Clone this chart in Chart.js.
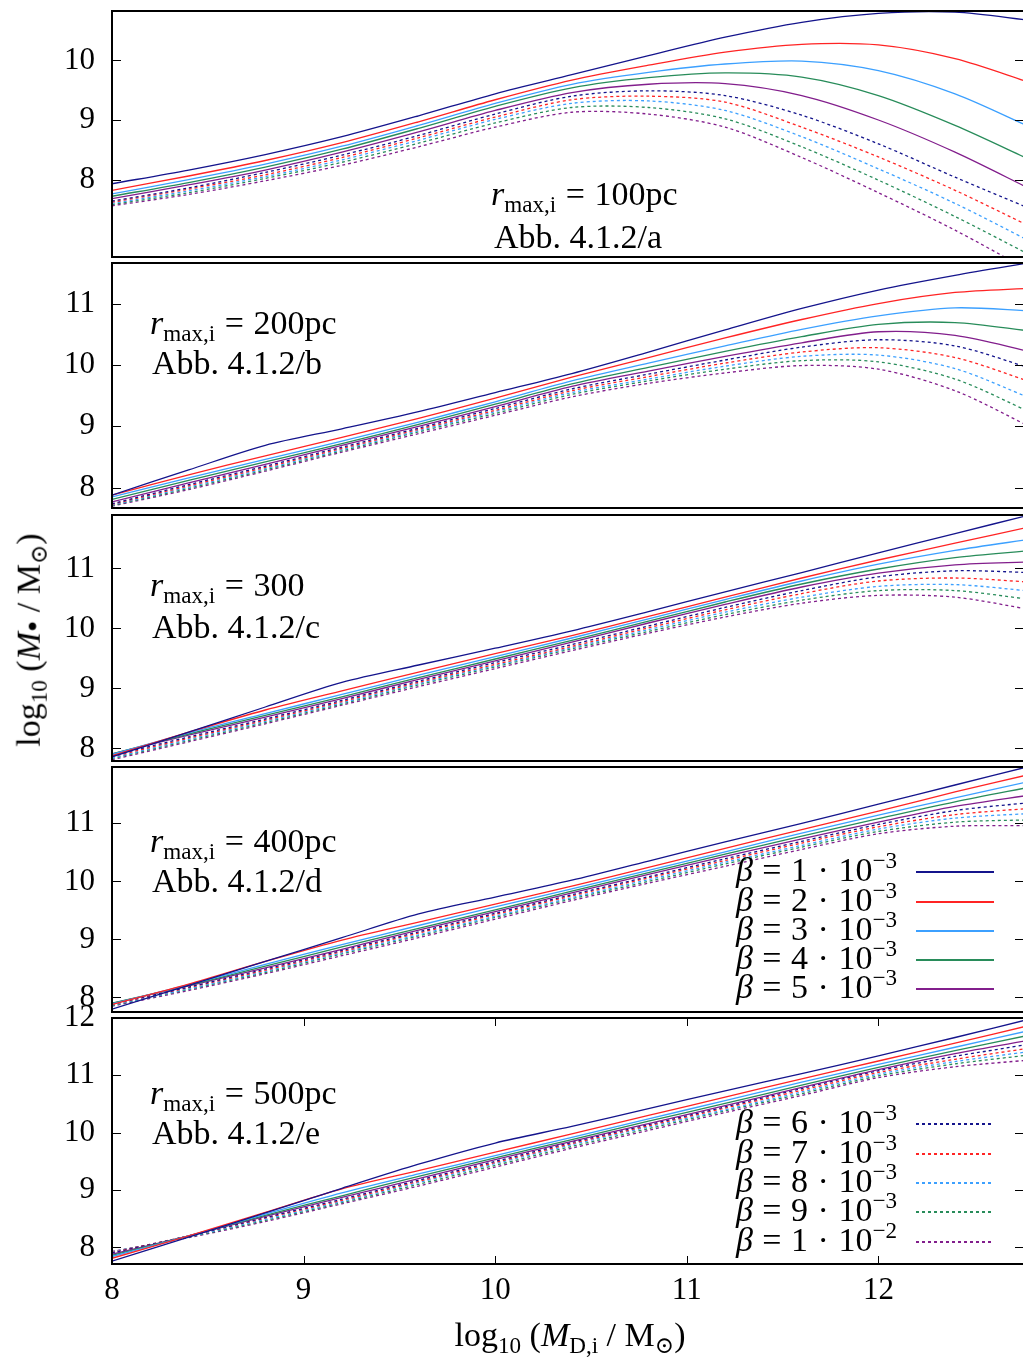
<!DOCTYPE html>
<html>
<head>
<meta charset="utf-8">
<title>Abb. 4.1.2</title>
<script src="https://cdn.jsdelivr.net/npm/chart.js@4.4.1/dist/chart.umd.min.js"></script>
<style>
  html, body { margin: 0; padding: 0; background: #fff; overflow: hidden; }
  #page { position: relative; width: 1023px; height: 1358px; overflow: hidden; background: #fff; }
  canvas { position: absolute; left: 0; }
  .tx { position: absolute; font-family: "Liberation Serif", "DejaVu Serif", serif; font-size: 34px; line-height: 32px; white-space: nowrap; color: #000; z-index: 5; }
  .tx sub { font-size: 0.68em; vertical-align: -0.32em; line-height: 0; }
  .tx sup { font-size: 0.68em; vertical-align: 0.55em; line-height: 0; }
  .tx sub.dot { font-size: 0.95em; vertical-align: -0.12em; }
  .op { margin: 0 0.28em; }
  .key { position: absolute; left: 916px; width: 78px; height: 2px; z-index: 5; }
</style>
</head>
<body>
<div id="page"></div>
<script>
// x-Werte: log10(M_D,i / Msun)
const massX = [8.0, 8.4, 8.8, 9.2, 9.6, 10.0, 10.4, 10.8, 11.2, 11.6, 12.0, 12.4, 12.8];
const xTickVals = [8, 9, 10, 11, 12];

// beta = mant * 10^exp
const betaMant = ["1", "2", "3", "4", "5", "6", "7", "8", "9", "1"];
const betaExp = ["−3", "−3", "−3", "−3", "−3", "−3", "−3", "−3", "−3", "−2"];

const panelRadius = ["100pc", "200pc", "300", "400pc", "500pc"];
const panelTag = ["a", "b", "c", "d", "e"];
const panelYTicks = [[8, 9, 10], [8, 9, 10, 11], [8, 9, 10, 11], [8, 9, 10, 11], [8, 9, 10, 11, 12]];

// log10(M_bh / Msun), one row per beta (1e-3 ... 1e-2)
const rmax100 = [
  [7.93, 8.16, 8.42, 8.72, 9.07, 9.44, 9.76, 10.08, 10.39, 10.64, 10.79, 10.81, 10.67],
  [7.82, 8.06, 8.32, 8.62, 8.97, 9.34, 9.67, 9.92, 10.14, 10.27, 10.26, 10.03, 9.62],
  [7.76, 8.00, 8.26, 8.56, 8.91, 9.28, 9.60, 9.80, 9.94, 9.99, 9.83, 9.44, 8.87],
  [7.72, 7.95, 8.21, 8.51, 8.86, 9.23, 9.54, 9.71, 9.79, 9.72, 9.41, 8.91, 8.32],
  [7.68, 7.91, 8.16, 8.46, 8.80, 9.16, 9.46, 9.60, 9.61, 9.41, 9.00, 8.46, 7.83],
  [7.64, 7.86, 8.12, 8.41, 8.74, 9.10, 9.40, 9.49, 9.41, 9.08, 8.60, 8.04, 7.50],
  [7.62, 7.84, 8.08, 8.37, 8.70, 9.05, 9.34, 9.40, 9.30, 8.88, 8.38, 7.82, 7.20],
  [7.60, 7.81, 8.05, 8.33, 8.66, 9.01, 9.28, 9.32, 9.16, 8.72, 8.18, 7.60, 6.95],
  [7.58, 7.78, 8.02, 8.29, 8.61, 8.95, 9.21, 9.21, 9.02, 8.55, 7.99, 7.38, 6.72],
  [7.56, 7.75, 7.98, 8.24, 8.55, 8.88, 9.13, 9.10, 8.88, 8.37, 7.78, 7.15, 6.45]
];
const rmax200 = [
  [7.88, 8.29, 8.69, 8.96, 9.24, 9.55, 9.86, 10.21, 10.57, 10.92, 11.22, 11.46, 11.67],
  [7.88, 8.21, 8.52, 8.82, 9.13, 9.46, 9.80, 10.12, 10.44, 10.74, 11.00, 11.18, 11.25],
  [7.85, 8.16, 8.46, 8.76, 9.07, 9.40, 9.74, 10.03, 10.31, 10.58, 10.80, 10.93, 10.88],
  [7.81, 8.12, 8.42, 8.72, 9.03, 9.36, 9.69, 9.96, 10.22, 10.46, 10.66, 10.69, 10.55],
  [7.77, 8.08, 8.38, 8.69, 9.00, 9.32, 9.65, 9.90, 10.14, 10.36, 10.54, 10.48, 10.21],
  [7.74, 8.05, 8.35, 8.66, 8.97, 9.29, 9.61, 9.85, 10.08, 10.29, 10.41, 10.31, 9.94],
  [7.73, 8.03, 8.33, 8.64, 8.95, 9.26, 9.58, 9.81, 10.03, 10.21, 10.28, 10.12, 9.72],
  [7.72, 8.01, 8.31, 8.62, 8.93, 9.24, 9.55, 9.77, 9.98, 10.14, 10.16, 9.94, 9.45],
  [7.71, 7.99, 8.29, 8.60, 8.91, 9.21, 9.52, 9.74, 9.93, 10.07, 10.05, 9.77, 9.22],
  [7.70, 7.97, 8.27, 8.58, 8.88, 9.18, 9.48, 9.70, 9.87, 9.99, 9.93, 9.58, 8.98]
];
const rmax300 = [
  [7.86, 8.27, 8.69, 9.10, 9.39, 9.67, 9.96, 10.28, 10.61, 10.93, 11.26, 11.58, 11.90],
  [7.88, 8.27, 8.64, 8.96, 9.27, 9.58, 9.88, 10.20, 10.52, 10.84, 11.14, 11.42, 11.70],
  [7.90, 8.26, 8.58, 8.90, 9.22, 9.53, 9.84, 10.16, 10.48, 10.79, 11.07, 11.30, 11.49],
  [7.91, 8.24, 8.55, 8.86, 9.18, 9.49, 9.80, 10.12, 10.44, 10.74, 10.99, 11.18, 11.30],
  [7.91, 8.22, 8.52, 8.83, 9.15, 9.46, 9.77, 10.09, 10.40, 10.69, 10.92, 11.06, 11.11],
  [7.88, 8.19, 8.49, 8.80, 9.12, 9.43, 9.73, 10.04, 10.35, 10.63, 10.86, 10.96, 10.93],
  [7.86, 8.17, 8.47, 8.78, 9.10, 9.40, 9.70, 10.01, 10.31, 10.58, 10.79, 10.84, 10.77],
  [7.84, 8.15, 8.45, 8.76, 9.08, 9.38, 9.68, 9.98, 10.27, 10.52, 10.70, 10.73, 10.62],
  [7.83, 8.13, 8.43, 8.74, 9.06, 9.36, 9.66, 9.95, 10.23, 10.47, 10.63, 10.63, 10.48],
  [7.81, 8.11, 8.41, 8.72, 9.03, 9.33, 9.63, 9.92, 10.19, 10.42, 10.55, 10.52, 10.31]
];
const rmax400 = [
  [7.80, 8.21, 8.62, 9.03, 9.44, 9.73, 10.02, 10.35, 10.68, 11.00, 11.33, 11.66, 11.99],
  [7.88, 8.23, 8.62, 8.99, 9.30, 9.61, 9.92, 10.24, 10.57, 10.89, 11.21, 11.54, 11.85],
  [7.89, 8.22, 8.57, 8.91, 9.24, 9.56, 9.87, 10.19, 10.51, 10.83, 11.14, 11.44, 11.73],
  [7.90, 8.21, 8.54, 8.87, 9.19, 9.51, 9.83, 10.15, 10.47, 10.78, 11.08, 11.37, 11.63],
  [7.90, 8.20, 8.51, 8.83, 9.16, 9.48, 9.80, 10.12, 10.43, 10.73, 11.02, 11.29, 11.49],
  [7.89, 8.18, 8.49, 8.81, 9.13, 9.45, 9.77, 10.08, 10.39, 10.69, 10.98, 11.22, 11.36],
  [7.88, 8.17, 8.47, 8.79, 9.11, 9.43, 9.75, 10.06, 10.36, 10.66, 10.94, 11.15, 11.26],
  [7.87, 8.15, 8.45, 8.77, 9.08, 9.40, 9.72, 10.03, 10.33, 10.62, 10.90, 11.09, 11.17],
  [7.86, 8.14, 8.43, 8.75, 9.06, 9.38, 9.70, 10.00, 10.30, 10.59, 10.86, 11.02, 11.06],
  [7.85, 8.12, 8.41, 8.72, 9.03, 9.35, 9.67, 9.97, 10.26, 10.55, 10.82, 10.95, 10.96]
];
const rmax500 = [
  [7.76, 8.18, 8.60, 9.03, 9.45, 9.82, 10.11, 10.42, 10.73, 11.03, 11.34, 11.66, 11.99],
  [7.81, 8.20, 8.61, 9.02, 9.34, 9.66, 9.98, 10.30, 10.62, 10.94, 11.25, 11.56, 11.88],
  [7.84, 8.20, 8.58, 8.95, 9.28, 9.60, 9.92, 10.24, 10.56, 10.88, 11.19, 11.49, 11.79],
  [7.86, 8.20, 8.56, 8.90, 9.24, 9.56, 9.88, 10.20, 10.51, 10.83, 11.14, 11.43, 11.71],
  [7.88, 8.20, 8.54, 8.87, 9.20, 9.53, 9.85, 10.16, 10.47, 10.79, 11.10, 11.38, 11.62],
  [7.90, 8.20, 8.52, 8.84, 9.17, 9.50, 9.83, 10.14, 10.45, 10.77, 11.08, 11.33, 11.55],
  [7.91, 8.20, 8.51, 8.82, 9.15, 9.48, 9.81, 10.12, 10.43, 10.74, 11.05, 11.28, 11.48],
  [7.92, 8.19, 8.49, 8.80, 9.13, 9.46, 9.79, 10.10, 10.40, 10.71, 11.02, 11.24, 11.42],
  [7.92, 8.18, 8.47, 8.78, 9.10, 9.43, 9.76, 10.07, 10.38, 10.68, 10.99, 11.20, 11.36],
  [7.93, 8.17, 8.45, 8.76, 9.07, 9.40, 9.73, 10.04, 10.35, 10.65, 10.96, 11.15, 11.27]
];
const panelSeries = [rmax100, rmax200, rmax300, rmax400, rmax500];

// styles + layout
const seriesColor = ["#14148c", "#ff2424", "#3ca0ff", "#288c5a", "#821e8c"];
const panelBox = [
  { top: 11, bottom: 257, min: 6.70, max: 10.83 },
  { top: 263, bottom: 508, min: 7.67, max: 11.66 },
  { top: 515, bottom: 761, min: 7.79, max: 11.89 },
  { top: 767, bottom: 1012, min: 7.75, max: 11.97 },
  { top: 1018, bottom: 1264, min: 7.71, max: 12.00 }
];
const PAD = 40; // room around each chart area (y tick labels add their own padding)
const tickFont = { family: "Liberation Serif", size: 31 };
const page = document.getElementById("page");

// frame + inward ticks like gnuplot
const frameTicks = {
  id: "frameTicks",
  afterDraw(chart, args, opts) {
    const ctx = chart.ctx;
    const a = chart.chartArea;
    ctx.save();
    ctx.strokeStyle = "#000";
    ctx.lineWidth = 1;
    ctx.beginPath();
    chart.scales.y.ticks.forEach(t => {
      const py = Math.round(chart.scales.y.getPixelForValue(t.value)) + 0.5;
      ctx.moveTo(a.left, py); ctx.lineTo(a.left + 9, py);
      ctx.moveTo(a.right, py); ctx.lineTo(a.right - 9, py);
    });
    if (opts.xTicks) {
      chart.scales.x.ticks.forEach(t => {
        const px = Math.round(chart.scales.x.getPixelForValue(t.value)) + 0.5;
        ctx.moveTo(px, a.top); ctx.lineTo(px, a.top + 8);
        ctx.moveTo(px, a.bottom); ctx.lineTo(px, a.bottom - 8);
      });
    }
    ctx.stroke();
    ctx.lineWidth = 2;
    ctx.strokeRect(a.left, a.top, a.right - a.left, a.bottom - a.top);
    ctx.restore();
  }
};

function drawPanel(k) {
  const box = panelBox[k];
  const last = k === panelBox.length - 1;
  const cv = document.createElement("canvas");
  cv.width = 1026;
  cv.height = last ? 1358 - (box.top - PAD) : box.bottom - box.top + 2 * PAD;
  cv.style.top = (box.top - PAD) + "px";
  page.appendChild(cv);

  const datasets = panelSeries[k].map((vals, i) => ({
    label: "β = " + betaMant[i] + "·10^" + betaExp[i],
    data: massX.map((x, j) => ({ x: x, y: vals[j] })),
    borderColor: seriesColor[i % 5],
    borderWidth: 1.3,
    borderDash: i < 5 ? [] : [3, 3],
    pointRadius: 0,
    tension: 0.3,
    clip: 0
  }));

  new Chart(cv, {
    type: "line",
    data: { datasets: datasets },
    options: {
      responsive: false,
      animation: false,
      devicePixelRatio: 1,
      events: [],
      layout: { padding: { top: PAD, bottom: last ? 0 : PAD, left: 0, right: 2 } },
      plugins: {
        legend: { display: false },
        tooltip: { enabled: false },
        frameTicks: { xTicks: last }
      },
      scales: {
        x: {
          type: "linear", min: 8, max: 12.76,
          display: last,
          grid: { display: false, drawTicks: false },
          border: { display: false },
          ticks: { color: "#000", font: tickFont, padding: 8, maxRotation: 0 },
          afterBuildTicks: s => { s.ticks = xTickVals.map(v => ({ value: v })); },
          afterFit: s => { s.height = last ? 94 : 0; }
        },
        y: {
          type: "linear", min: box.min, max: box.max,
          grid: { display: false, drawTicks: false },
          border: { display: false },
          ticks: { color: "#000", font: tickFont, padding: 17 },
          afterBuildTicks: s => { s.ticks = panelYTicks[k].map(v => ({ value: v })); },
          afterFit: s => { s.width = 112; }
        }
      }
    },
    plugins: [frameTicks]
  });
}

function addText(html, left, centerY) {
  const d = document.createElement("div");
  d.className = "tx";
  d.innerHTML = html;
  d.style.left = left + "px";
  d.style.top = (centerY - 16) + "px";
  page.appendChild(d);
  return d;
}

for (let k = 0; k < panelBox.length; k++) drawPanel(k);

// panel captions
const captionPos = [
  { x1: 491, y1: 194, x2: 494, y2: 237 },
  { x1: 150, y1: 323, x2: 152, y2: 363 },
  { x1: 150, y1: 585, x2: 152, y2: 627 },
  { x1: 150, y1: 841, x2: 152, y2: 881 },
  { x1: 150, y1: 1093, x2: 152, y2: 1133 }
];
captionPos.forEach((p, k) => {
  addText('<i>r</i><sub>max,i</sub><span class="op">=</span>' + panelRadius[k], p.x1, p.y1);
  addText("Abb. 4.1.2/" + panelTag[k], p.x2, p.y2);
});

// legends (solid in panel d, dotted in panel e)
const keyY = [872, 902, 931, 960, 989, 1124, 1154, 1183, 1212, 1242];
keyY.forEach((y, i) => {
  const t = addText('<i>β</i><span class="op">=</span>' + betaMant[i] +
    '<span class="op">·</span>10<sup>' + betaExp[i] + "</sup>", 0, y - 2);
  t.style.left = "auto";
  t.style.right = (1023 - 897) + "px";
  const key = document.createElement("div");
  key.className = "key";
  key.style.top = (y - 1) + "px";
  const c = seriesColor[i % 5];
  if (i < 5) {
    key.style.background = c;
    key.style.height = "1.5px";
  } else {
    key.style.width = "76px";
    key.style.height = "1.5px";
    key.style.background = "repeating-linear-gradient(to right, " + c + " 0 3px, transparent 3px 6px)";
  }
  page.appendChild(key);
});

// axis titles
const xt = addText('log<sub>10</sub> (<i>M</i><sub>D,i</sub> / M<sub>⊙</sub>)', 0, 1335);
xt.style.left = (570 - xt.offsetWidth / 2) + "px";
const yt = addText('log<sub>10</sub> (<i>M</i><sub class="dot">•</sub> / M<sub>⊙</sub>)', 0, 640);
yt.style.left = (28 - yt.offsetWidth / 2) + "px";
yt.style.transform = "rotate(-90deg)";
</script>
</body>
</html>
